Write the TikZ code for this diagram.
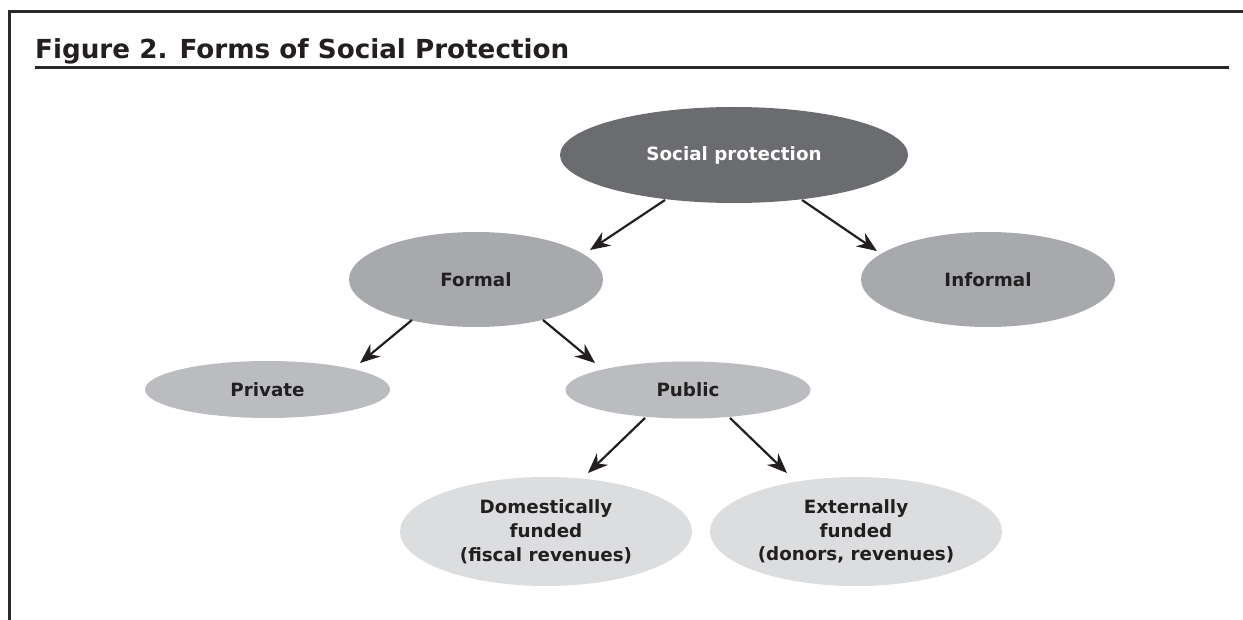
\documentclass[tikz,border=0pt]{standalone}
\usepackage{fontspec}
\setmainfont{DejaVu Sans}
\usetikzlibrary{shapes.geometric,arrows.meta,calc}

\definecolor{ink}{HTML}{231F20}
\definecolor{rule}{HTML}{2B2A2B}
\definecolor{levelA}{HTML}{6B6C6F}
\definecolor{levelB}{HTML}{A8A9AC}
\definecolor{levelC}{HTML}{BBBCBF}
\definecolor{levelD}{HTML}{DCDDDF}

\tikzset{
  bubble/.style={ellipse, inner sep=0pt, align=center, text=ink,
    font=\bfseries\fontsize{18.3}{23.8}\selectfont},
  rootbubble/.style={bubble, fill=levelA, text=white,
    minimum width=348pt, minimum height=96pt},
  midbubble/.style={bubble, fill=levelB, minimum width=254pt, minimum height=95pt},
  smallbubble/.style={bubble, fill=levelC, minimum width=245pt, minimum height=57pt},
  leafbubble/.style={bubble, fill=levelD, minimum width=292pt, minimum height=109pt},
  link/.style={draw=ink, line width=2.2pt,
    -{Stealth[length=20pt, width=16pt, inset=6.5pt]}},
  frameline/.style={draw=rule, line width=2.6pt},
}

\begin{document}
\begin{tikzpicture}[x=1pt, y=-1pt]
  \useasboundingbox (0,0) rectangle (1243,620);

  % outer frame and heading
  \draw[frameline] (1243,11.5) -- (9.5,11.5) -- (9.5,620);
  \node[anchor=base west, inner sep=0pt, text=ink,
        font=\bfseries\fontsize{26.2}{30}\selectfont] (title) at (35,58.3)
        {Figure 2. Forms of Social Protection};
  \draw[draw=rule, line width=2.5pt] (35,67.5) -- (1229,67.5);

  % hierarchy of forms
  \node[rootbubble]  (sp)       at (734,155)   {Social protection};
  \node[midbubble]   (formal)   at (476,279.5) {Formal};
  \node[midbubble]   (informal) at (988,279.5) {Informal};
  \node[smallbubble] (private)  at (267.5,389.5) {Private};
  \node[smallbubble] (public)   at (688,390)   {Public};
  \node[leafbubble]  (domestic) at (546,531.5) {Domestically\\funded\\(fiscal revenues)};
  \node[leafbubble]  (external) at (856,531.5) {Externally\\funded\\(donors, revenues)};

  % arrows between levels
  \draw[link] ($(sp.center)+(-69,45)$)     -- ($(formal.center)+(114,-29.5)$);
  \draw[link] ($(sp.center)+(68,45)$)      -- ($(informal.center)+(-111,-28.5)$);
  \draw[link] ($(formal.center)+(-64,40.5)$) -- ($(private.center)+(92.5,-26.5)$);
  \draw[link] ($(formal.center)+(67,40.5)$)  -- ($(public.center)+(-93,-27)$);
  \draw[link] ($(public.center)+(-43,28)$)   -- ($(domestic.center)+(42,-58.5)$);
  \draw[link] ($(public.center)+(42,28)$)    -- ($(external.center)+(-69,-58.5)$);
\end{tikzpicture}
\end{document}
